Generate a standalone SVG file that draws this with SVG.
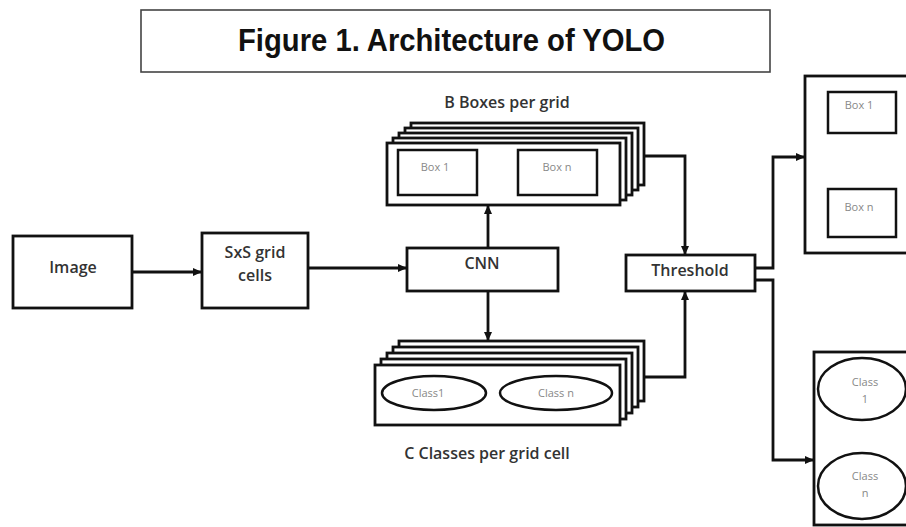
<svg xmlns="http://www.w3.org/2000/svg" width="906" height="527" viewBox="0 0 906 527">
<defs>
<marker id="ah" markerWidth="10" markerHeight="10" refX="8" refY="5" orient="auto" markerUnits="userSpaceOnUse">
<path d="M0,1 L9,5 L0,9 Z" fill="#111"/>
</marker>
<style>
.b{fill:#fff;stroke:#111;stroke-width:2.8}
.in{fill:#fff;stroke:#111;stroke-width:2.5}
.c{fill:none;stroke:#111;stroke-width:2.8}
.t{font-family:"Open Sans","Liberation Sans",sans-serif;font-weight:600;fill:#333;font-size:16px;text-anchor:middle}
.s{font-family:"Open Sans","Liberation Sans",sans-serif;fill:#888;font-size:11px;text-anchor:middle}
</style>
</defs>
<rect width="906" height="527" fill="#fff"/>
<g id="title">
<rect x="141" y="10" width="629" height="62" fill="#fff" stroke="#444" stroke-width="1.6"/>
<text x="238" y="51" font-family="Liberation Sans, Arial, sans-serif" font-weight="bold" font-size="31" textLength="427" lengthAdjust="spacingAndGlyphs" fill="#111">Figure 1. Architecture of YOLO</text>
</g>
<g id="image">
<rect class="b" x="13" y="236" width="119" height="72"/>
<text class="t" x="73" y="273">Image</text>
</g>
<g id="grid">
<rect class="b" x="202" y="233" width="106" height="75"/>
<text class="t" x="255" y="258">SxS grid</text>
<text class="t" x="255" y="281">cells</text>
</g>
<g id="cnn">
<rect class="b" x="407" y="248" width="151" height="43"/>
<text class="t" x="482" y="269">CNN</text>
</g>
<g id="threshold">
<rect class="b" x="626" y="255" width="129" height="36"/>
<text class="t" x="690" y="276">Threshold</text>
</g>
<g id="boxes">
<text class="t" x="507" y="108" font-size="15">B Boxes per grid</text>
<rect class="b" x="411" y="123" width="233" height="62"/>
<rect class="b" x="405" y="128" width="233" height="62"/>
<rect class="b" x="399" y="133" width="233" height="62"/>
<rect class="b" x="393" y="138" width="233" height="62"/>
<rect class="b" x="387" y="143" width="233" height="62"/>
<rect class="in" x="398" y="150" width="79" height="45"/>
<text class="s" x="435" y="171">Box 1</text>
<rect class="in" x="518" y="150" width="79" height="45"/>
<text class="s" x="557" y="171">Box n</text>
</g>
<g id="classes">
<rect class="b" x="399" y="341" width="245" height="60"/>
<rect class="b" x="393" y="347" width="245" height="60"/>
<rect class="b" x="387" y="353" width="245" height="60"/>
<rect class="b" x="381" y="359" width="245" height="60"/>
<rect class="b" x="375" y="365" width="245" height="60"/>
<ellipse class="in" cx="434" cy="393" rx="52" ry="17"/>
<text class="s" x="428" y="397">Class1</text>
<ellipse class="in" cx="556" cy="393" rx="56" ry="17"/>
<text class="s" x="556" y="397">Class n</text>
<text class="t" x="487" y="459" font-size="15">C Classes per grid cell</text>
</g>
<g id="outboxes">
<rect class="b" x="805" y="76" width="110" height="177"/>
<rect class="in" x="828" y="92" width="68" height="41"/>
<text class="s" x="859" y="109">Box 1</text>
<rect class="in" x="828" y="189" width="68" height="48"/>
<text class="s" x="859" y="211">Box n</text>
</g>
<g id="outclasses">
<rect class="b" x="814" y="352" width="110" height="173"/>
<ellipse class="in" cx="862" cy="389" rx="44" ry="31"/>
<text class="s" x="865" y="386">Class</text>
<text class="s" x="865" y="403">1</text>
<ellipse class="in" cx="862" cy="486" rx="44" ry="33"/>
<text class="s" x="865" y="480">Class</text>
<text class="s" x="865" y="497">n</text>
</g>
<g id="connectors">
<line class="c" x1="132" y1="272" x2="201" y2="272" marker-end="url(#ah)"/>
<line class="c" x1="308" y1="268" x2="406" y2="268" marker-end="url(#ah)"/>
<line class="c" x1="488" y1="248" x2="488" y2="206" marker-end="url(#ah)"/>
<line class="c" x1="488" y1="291" x2="488" y2="340" marker-end="url(#ah)"/>
<polyline class="c" points="645,156 685,156 685,254" marker-end="url(#ah)"/>
<polyline class="c" points="645,377 685,377 685,292" marker-end="url(#ah)"/>
<polyline class="c" points="755,268 773,268 773,157 804,157" marker-end="url(#ah)"/>
<polyline class="c" points="755,280 773,280 773,460 813,460" marker-end="url(#ah)"/>
</g>
</svg>
